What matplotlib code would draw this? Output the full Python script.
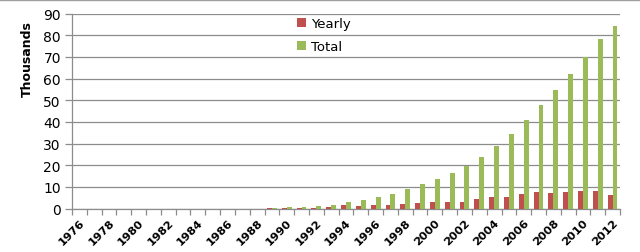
import matplotlib
matplotlib.use("Agg")
import matplotlib.pyplot as plt
import numpy as np
from matplotlib.lines import Line2D

years = list(range(1976, 2013))
yearly = [0, 0, 0, 0, 0, 0, 0, 0, 0, 0, 0, 0, 0,
          0.1, 0.2, 0.3, 0.4, 0.8, 1.4, 1.1, 1.4, 1.7, 2.3, 2.6, 2.8,
          3.1, 3.1, 4.5, 5.2, 5.4, 6.6, 7.4, 7.2, 7.4, 7.9, 8.2, 6.3]
total = [0, 0, 0, 0, 0, 0, 0, 0, 0, 0, 0, 0, 0,
         0.3, 0.5, 0.8, 1.2, 1.8, 3.2, 4.0, 5.4, 6.8, 8.8, 11.1, 13.7,
         16.5, 19.6, 23.6, 28.8, 34.2, 40.8, 47.8, 54.9, 62.1, 70.0, 78.3, 84.3]
yticks = list(range(0, 91, 10))

RED = "#C0504D"
GREEN = "#9BBB59"
GRID = "#8C8C8C"

plt.rcParams['font.family'] = ['DejaVu Sans']

fig = plt.figure(figsize=(6.4, 2.53), dpi=100)
ax = fig.add_axes([72/640, 1-209.5/253, (620-72)/640, (209.5-14.5)/253])

x = np.arange(len(years))
w = 0.33
ax.bar(x - w/2, yearly, width=w, color=RED, label="Yearly", zorder=3)
ax.bar(x + w/2, total, width=w, color=GREEN, label="Total", zorder=3)

ax.set_xlim(-0.5, len(years) - 0.5)
ax.set_ylim(0, 90)
ax.set_yticks(yticks)
ax.set_yticklabels([str(v) for v in yticks], fontsize=10)
ax.yaxis.grid(True, color=GRID, linewidth=0.9, zorder=0)
ax.set_axisbelow(True)

# category labels every other year
lab_idx = [i for i, yv in enumerate(years) if yv % 2 == 0]
ax.set_xticks(lab_idx)
ax.set_xticklabels([str(years[i]) for i in lab_idx], rotation=45, ha='right',
                   rotation_mode='anchor', fontsize=8.2, fontweight='bold')
ax.tick_params(axis='x', which='major', length=0, pad=6)
ax.set_xticks(np.arange(-0.5, len(years), 1.0), minor=True)
ax.tick_params(axis='x', which='minor', length=4, color=GRID, width=0.9)
ax.tick_params(axis='y', length=5, color=GRID, width=0.9, pad=3)

for s in ['top', 'right']:
    ax.spines[s].set_visible(False)
for s in ['left', 'bottom']:
    ax.spines[s].set_color(GRID)
    ax.spines[s].set_linewidth(0.9)

fig.text(27/640, 1-59/253, "Thousands", rotation=90, ha='center', va='center',
         fontsize=9, fontweight='bold')

leg = ax.legend(loc='upper left', bbox_to_anchor=(294/640, 1-15.5/253),
                bbox_transform=fig.transFigure, frameon=False, fontsize=9.5,
                handlelength=0.7, handleheight=0.7, handletextpad=0.4,
                labelspacing=0.75, borderaxespad=0, borderpad=0.2)

fig.add_artist(Line2D([0, 1], [0.998, 0.998], transform=fig.transFigure,
                      color="#A0A0A0", linewidth=1))

fig.savefig("out.png", dpi=100)
